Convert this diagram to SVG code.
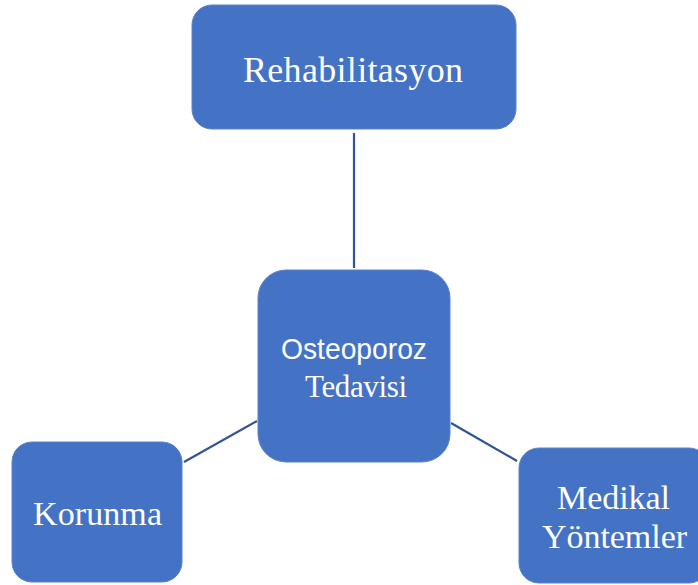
<svg xmlns="http://www.w3.org/2000/svg" width="698" height="585" viewBox="0 0 698 585">
<style>
.box{fill:#4472C4;stroke:#5A82CB;stroke-width:1}
.serif{font-family:"Liberation Serif","Times New Roman",serif;fill:#fff;text-anchor:middle}
.sans{font-family:"Liberation Sans",Arial,sans-serif;fill:#fff;text-anchor:middle}
.conn{stroke:#2F5597;stroke-width:2.2;fill:none}
</style>
<rect width="698" height="585" fill="#fff"/>
<g id="connectors">
<line class="conn" x1="354" y1="133" x2="354" y2="268"/>
<line class="conn" x1="184" y1="462" x2="257" y2="421"/>
<line class="conn" x1="451" y1="423" x2="517" y2="461"/>
</g>
<g id="rehabilitasyon">
<rect class="box" x="192" y="5" width="324" height="124" rx="20"/>
<text class="serif" x="353" y="82" font-size="36" textLength="220">Rehabilitasyon</text>
</g>
<g id="osteoporoz">
<rect class="box" x="258" y="270" width="192" height="192" rx="28"/>
<text class="sans" x="354" y="359" font-size="30" textLength="146" lengthAdjust="spacingAndGlyphs">Osteoporoz</text>
<text class="serif" x="356" y="397" font-size="31" textLength="102">Tedavisi</text>
</g>
<g id="korunma">
<rect class="box" x="12" y="442" width="170" height="140" rx="20"/>
<text class="serif" x="97.5" y="525" font-size="34" textLength="129">Korunma</text>
</g>
<g id="medikal">
<rect class="box" x="519" y="448" width="190" height="135" rx="20"/>
<text class="serif" x="613.5" y="509" font-size="34" textLength="113">Medikal</text>
<text class="serif" x="614.5" y="548" font-size="34" textLength="145">Yöntemler</text>
</g>
</svg>
